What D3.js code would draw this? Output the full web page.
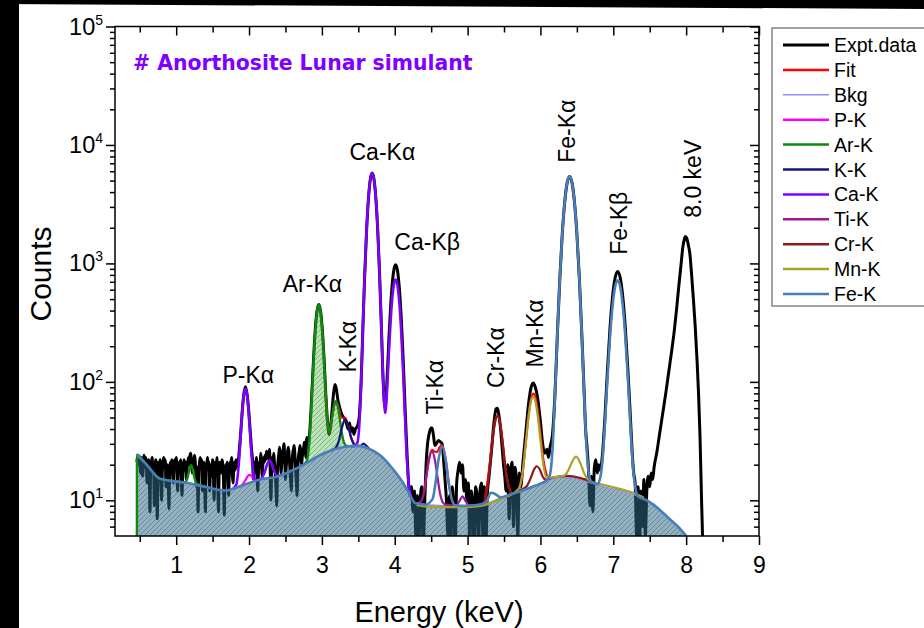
<!DOCTYPE html>
<html lang="en">
<head>
<meta charset="UTF-8">
<title>Anorthosite Lunar simulant - XRF spectrum</title>
<script src="https://cdn.jsdelivr.net/npm/d3@7"></script>
<style>
  body { margin: 0; background: #fff; }
  svg { display: block; font-family: "Liberation Sans", Arial, sans-serif; }
</style>
</head>
<body>
<svg width="924" height="628"></svg>
<script>
// ---- spectrum: [energy keV, counts] ----
const expt = [
  [0.46,21],[0.47,23],[0.48,24],[0.49,20],[0.50,22],[0.51,17],[0.52,23],[0.53,21],[0.54,16],[0.55,22],[0.56,24],[0.57,19],[0.58,23],[0.59,21],[0.60,14],[0.61,20],[0.62,22],[0.63,18],[0.64,8],[0.65,19],[0.66,21],[0.67,23],[0.68,17],[0.69,20],[0.70,9],[0.71,18],[0.72,22],[0.73,20],[0.74,7],[0.75,16],[0.76,21],[0.77,19],[0.78,22],[0.79,15],[0.80,10],[0.81,18],[0.82,21],[0.83,23],[0.84,19],[0.85,22],[0.86,13],[0.87,18],[0.88,20],[0.89,17],[0.90,8.5],[0.91,16],[0.92,21],[0.93,19],[0.94,22],[0.95,18],[0.96,14],[0.97,20],[0.98,22],[0.99,19],[1.00,23],[1.01,17],[1.02,12],[1.03,19],[1.04,21],[1.05,18],[1.06,22],[1.07,16],[1.08,11],[1.09,17],[1.10,20],[1.11,22],[1.12,18],[1.13,21],[1.14,15],[1.15,19],[1.16,21],[1.17,23],[1.18,20],[1.19,24],[1.20,25],[1.21,21],[1.22,17],[1.23,22],[1.24,20],[1.25,24],[1.26,22],[1.27,16],[1.28,13],[1.29,19],[1.30,8],[1.31,17],[1.32,21],[1.33,23],[1.34,19],[1.35,22],[1.36,12],[1.37,18],[1.38,21],[1.39,16],[1.40,8],[1.41,17],[1.42,20],[1.43,23],[1.44,19],[1.45,21],[1.46,12],[1.47,18],[1.48,20],[1.49,16],[1.50,22],[1.51,18],[1.52,10],[1.53,17],[1.54,21],[1.55,19],[1.56,23],[1.57,16],[1.58,8],[1.59,18],[1.60,21],[1.61,17],[1.62,19],[1.63,22],[1.64,20],[1.65,14],[1.66,7.5],[1.67,17],[1.68,20],[1.69,18],[1.70,21],[1.71,15],[1.72,11],[1.73,18],[1.74,21],[1.75,19],[1.76,23],[1.77,17],[1.78,14],[1.79,19],[1.80,21],[1.81,18],[1.82,22],[1.83,20],[1.84,19],[1.85,21],[1.86,24],
  [1.887,38],[1.908,58],[1.929,79],[1.95,91],[1.971,80],[1.992,61],[2.013,41],[2.034,27],
  [2.05,21],[2.06,15],[2.07,18],[2.08,21],[2.09,19],[2.10,23],[2.11,17],[2.12,12],[2.13,18],[2.14,21],[2.15,19],[2.16,25],[2.17,22],[2.18,16],[2.19,20],[2.20,23],[2.21,21],[2.22,24],[2.23,22],[2.24,26],[2.25,23],[2.26,25],[2.27,22],[2.28,27],[2.29,19],[2.30,10],[2.31,18],[2.32,23],[2.33,21],[2.34,25],[2.35,20],[2.36,17],[2.37,13],[2.38,9],[2.39,18],[2.40,22],[2.41,25],[2.42,28],[2.43,23],[2.44,17],[2.45,21],[2.46,25],[2.47,27],[2.48,30],[2.49,22],[2.50,15],[2.51,19],[2.52,23],[2.53,26],[2.54,28],[2.55,24],[2.56,19],[2.57,15],[2.58,12],[2.59,20],[2.60,25],[2.61,27],[2.62,29],[2.63,24],[2.64,18],[2.65,14],[2.66,11],[2.67,19],[2.68,24],[2.69,26],[2.70,29],[2.71,25],[2.72,20],[2.73,23],[2.74,26],[2.75,28],[2.76,31],[2.77,27],[2.78,23],
  [2.793,34],[2.816,30],[2.84,44],[2.863,82],[2.887,162],[2.91,282],[2.934,399],[2.957,450],[2.98,400],[3.004,283],[3.028,163],[3.051,84],[3.075,48],[3.098,36],[3.12,42],[3.14,58],[3.16,80],[3.18,95],[3.20,86],[3.22,70],[3.24,62],[3.26,56],[3.28,52],[3.30,50],[3.32,48],[3.34,44],[3.36,40],[3.38,45],[3.40,38],[3.42,41],[3.44,36],[3.46,40],
  [3.486,42],[3.5115,50],[3.537,95],[3.5625,283],[3.588,810],[3.6135,1902],[3.639,3530],[3.6645,5120],[3.69,5800],[3.7155,5120],[3.741,3528],[3.7665,1901],[3.792,808],[3.8175,280],[3.843,95],[3.8685,61],[3.894,104],[3.92,232],[3.946,461],[3.972,739],[3.99,897],[4.012,975],[4.038,866],[4.065,596],[4.0915,326],[4.118,144],[4.1445,55],[4.171,23],[4.19,14],[4.21,11],[4.23,13],[4.25,8],[4.27,12],[4.29,5],[4.31,11],[4.33,4],[4.35,10],[4.37,13],[4.39,4],[4.41,9],
  [4.43,20],[4.45,30],[4.47,36],[4.49,40],[4.51,41],[4.53,36],[4.55,29],[4.57,30],[4.60,32],[4.63,31],[4.65,30],[4.67,22],[4.69,15],[4.71,10],[4.73,5],[4.75,11],[4.77,4],[4.79,13],[4.81,9],[4.83,4],[4.85,14],[4.87,18],[4.89,21],[4.91,17],[4.93,20],[4.95,12],[4.97,15],[4.99,10],[5.01,14],[5.03,4],[5.05,12],[5.07,9],[5.09,4],[5.11,13],[5.13,11],[5.15,4],[5.17,12],[5.19,14],[5.21,5],[5.23,13],[5.25,4],[5.27,11],[5.29,15],
  [5.31,20],[5.33,27],[5.35,38],[5.37,50],[5.39,59],[5.41,60],[5.43,52],[5.45,42],[5.47,30],[5.49,21],[5.51,16],[5.53,12],[5.55,20],[5.57,7],[5.59,18],[5.61,21],[5.63,6],[5.65,19],[5.67,14],[5.69,5],[5.71,17],[5.73,13],
  [5.76,21],[5.80,38],[5.84,68],[5.87,89],[5.90,98],[5.93,90],[5.96,74],[6.00,46],[6.03,30],[6.06,25],[6.09,27],[6.11,23],[6.132,28],[6.1655,36],[6.199,78],[6.2325,255],[6.266,748],[6.2995,1772],[6.333,3296],[6.3665,4787],[6.40,5430],[6.4335,4787],[6.467,3296],[6.5005,1772],[6.534,748],[6.5675,255],[6.601,78],[6.62,40],[6.64,28],[6.66,18],[6.68,9],[6.70,16],[6.72,8],[6.74,19],[6.76,22],[6.78,17],[6.80,20],[6.82,18],[6.85,24],
  [6.885,50],[6.92,127],[6.955,286],[6.99,523],[7.025,756],[7.06,855],[7.095,756],[7.13,523],[7.165,286],[7.20,127],[7.235,50],[7.26,25],[7.28,17],[7.30,14],[7.32,5],[7.34,13],[7.36,4],[7.38,12],[7.40,6],[7.42,15],[7.44,5],[7.46,12],[7.48,16],[7.50,13],[7.52,17],[7.54,15],[7.56,19],[7.60,26],[7.64,38],[7.68,55],[7.72,80],[7.76,120],[7.80,180],[7.84,280],[7.87,420],[7.90,650],[7.93,980],[7.955,1380],[7.975,1600],[7.99,1690],[8.01,1620],[8.03,1430],[8.05,1224],[8.075,800],[8.10,494],[8.125,290],[8.15,150],[8.17,80],[8.19,35],[8.21,11],[8.225,5],[8.24,3]
];

// fitted background (filled area)
const bkg = [
  [0.46,24.3],[0.6,19.8],[0.78,15.2],[1.15,14.0],[1.4,13.0],[1.67,12.1],[1.9,13.3],[2.15,15],[2.38,15.8],[2.6,18],[2.79,20.7],[3.0,24.5],[3.2,27.3],[3.34,28.5],[3.5,28.8],[3.62,27.7],[3.8,24],[3.98,18.2],[4.1,14.5],[4.17,12.3],[4.28,9.5],[4.42,9.2],[4.8,9.0],[5.0,9.0],[5.26,9.4],[5.4,10.2],[5.58,11.2],[5.9,13.1],[6.16,15.2],[6.36,15.6],[6.55,14.9],[6.82,13.3],[7.05,12.3],[7.28,11.2],[7.55,9.2],[7.78,6.9],[7.9,5.9],[8.0,5.0]
];

// total fit, only where it shows (null = gap)
const fit = [
  [3.05,83],[3.075,46.6],[3.10,37.3],[3.14,50.6],[3.19,68.8],[3.23,60.3],[3.27,50.1],[3.32,49.5],[3.36,43],[3.40,34],[3.44,30],[3.46,null],
  [4.40,11.7],[4.44,16.9],[4.47,22.2],[4.51,26.7],[4.55,25.8],[4.58,25.5],[4.62,28.3],[4.65,29.2],[4.70,22],[4.74,14.2],[4.78,10.3],[4.80,null],
  [5.24,10.5],[5.26,12.6],[5.30,19.5],[5.34,32.9],[5.37,44.3],[5.41,51.6],[5.45,43.4],[5.48,31.5],[5.52,18.6],[5.56,13.4],[5.60,11.4],[5.62,null],
  [5.71,12.8],[5.76,18.2],[5.80,31.4],[5.84,54.1],[5.87,71.3],[5.90,79.5],[5.93,74.4],[5.96,59.1],[6.00,36.7],[6.04,22.1],[6.09,15.9]
];

const pK = [[1.86,13.1],[1.90,13.4],[1.95,14.8],[1.98,15.9],[2.00,16.4],[2.03,16.1],[2.06,15.3],[2.10,14.8],[2.15,15.0]];

const arK = [
  [0.4605,4],[0.4615,24.3],[0.6,19.8],[0.78,15.2],[1.0,14.5],[1.13,14.2],[1.16,15.9],[1.18,18.1],[1.205,19.8],[1.23,17.9],[1.25,15.6],[1.28,13.9],[1.4,13.0],[1.45,12.8],[1.46,null],
  [2.75,20.1],[2.793,21.6],[2.816,25.9],[2.84,40.4],[2.863,79.6],[2.887,160.4],[2.91,280],[2.934,397.4],[2.957,447.8],[2.98,398.2],[3.004,281.6],[3.028,162.8],[3.051,83.4],[3.075,46.6],[3.098,37.2],[3.12,41.5],[3.14,50.4],[3.165,62.7],[3.19,68.2],[3.215,63.2],[3.24,51.5],[3.27,38.2],[3.30,31.2],[3.34,28.8],[3.38,28.7]
];

const kK = [[3.10,26],[3.15,26.8],[3.19,27.8],[3.23,31.3],[3.27,39.9],[3.32,48.4],[3.36,42.9],[3.40,34],[3.44,29.8],[3.48,28.9],[3.53,28.9],[3.57,30.2],[3.61,28.8],[3.65,27.3]];

const caK = [
  [1.78,12.6],[1.824,13.5],[1.845,16.2],[1.866,23],[1.887,37.2],[1.908,58.2],[1.929,78.7],[1.95,87.6],[1.971,79],[1.992,58.7],[2.013,37.9],[2.034,24.2],[2.055,17.7],[2.076,15.3],[2.10,14.7],[2.15,15.0],[2.17,15.3],[2.22,17.7],[2.25,20.3],[2.28,21.7],[2.31,20.5],[2.34,17.9],[2.39,16.1],[2.45,16.5],[2.46,null],
  [3.40,28.7],[3.44,28.7],[3.486,30.6],[3.5115,41.3],[3.537,92.7],[3.5625,281],[3.588,809],[3.6135,1901],[3.639,3528],[3.6645,5120],[3.69,5797],[3.7155,5120],[3.741,3527],[3.7665,1900],[3.792,807],[3.8175,279],[3.843,93.5],[3.8685,54.7],[3.894,83.7],[3.92,178],[3.946,348.6],[3.972,554.6],[3.99,671.7],[4.012,729.6],[4.038,648],[4.065,447.6],[4.0915,246],[4.118,110],[4.1445,44.5],[4.171,20.2],[4.1975,12.9],[4.224,10.7],[4.26,9.8]
];

const tiK = [[4.30,9.4],[4.36,9.8],[4.40,11.6],[4.44,16.8],[4.47,22.1],[4.51,25.9],[4.55,22.1],[4.58,16.8],[4.62,11.6],[4.66,9.6],[4.70,9.2],[4.80,9.05],[4.85,9.1],[4.89,9.9],[4.93,10.8],[4.97,9.9],[5.01,9.1],[5.08,9.0]];

const crK = [[5.20,9.2],[5.26,11.4],[5.30,17.6],[5.34,31],[5.37,42.9],[5.41,51],[5.45,43.2],[5.48,31.5],[5.52,18.6],[5.56,13.4],[5.60,11.4],[5.66,11.6],[5.75,12.4],[5.82,13.4],[5.87,15.6],[5.91,18.1],[5.95,19.4],[5.99,18.3],[6.03,15.9],[6.08,14.9],[6.14,15.4],[6.25,15.9],[6.36,16.1],[6.48,15.8],[6.6,15.1],[6.7,14.3]];

const mnK = [[4.30,9.1],[4.45,8.85],[4.7,8.75],[5.0,8.75],[5.2,9.0],[5.30,9.4],[5.45,10.3],[5.6,11.2],[5.71,12.75],[5.76,18.1],[5.80,31],[5.84,52.8],[5.87,68.6],[5.90,75.1],[5.93,68.7],[5.96,53.1],[6.00,32.2],[6.04,19.9],[6.09,15.4],[6.2,15.7],[6.33,16.2],[6.38,17.8],[6.43,20.9],[6.49,23.4],[6.55,20.4],[6.60,16.9],[6.65,15.1],[6.72,14.2],[6.85,13.6],[7.0,12.9],[7.15,12.2],[7.3,11.4],[7.42,10.5]];

const feK = [
  [0.46,24.3],[0.6,19.8],[0.78,15.2],[1.15,14.0],[1.4,13.0],[1.67,12.1],[1.9,13.3],[2.15,15],[2.38,15.8],[2.6,18],[2.79,20.7],[3.0,24.5],[3.2,27.3],[3.34,28.5],[3.5,28.8],[3.62,27.7],[3.8,24],[3.98,18.2],[4.1,14.5],[4.17,12.3],[4.28,9.5],[4.42,9.2],
  [4.52,10.3],[4.56,14.1],[4.60,21.9],[4.65,28.5],[4.70,21.9],[4.74,14.1],[4.78,10.3],[4.83,9.1],[5.0,9.0],[5.2,9.3],[5.26,9.8],[5.32,11.6],[5.38,11.3],[5.45,10.6],[5.58,11.2],[5.9,13.1],
  [6.0985,15.0],[6.132,16.6],[6.1655,26.8],[6.199,75.4],[6.2325,252],[6.266,746],[6.2995,1770],[6.333,3294],[6.3665,4785],[6.40,5420],[6.4335,4785],[6.467,3294],[6.5005,1770],[6.534,746],[6.5675,252],[6.601,74.7],[6.6345,26.5],[6.668,16.3],[6.7015,14.3],[6.78,13.7],[6.815,15],[6.85,21.2],
  [6.885,44],[6.92,108],[6.955,242],[6.99,441],[7.025,637],[7.06,720],[7.095,637],[7.13,441],[7.165,242],[7.20,108],[7.235,42.5],[7.27,19.1],[7.305,12.6],[7.34,10.8],[7.45,10.1],[7.55,9.2],[7.78,6.9],[7.9,5.9],[8.0,5.0]
];

const xTicks = [1, 2, 3, 4, 5, 6, 7, 8, 9];
const xMinorTicks = [0.5, 1.5, 2.5, 3.5, 4.5, 5.5, 6.5, 7.5, 8.5];
const yTicks = [1e1, 1e2, 1e3, 1e4, 1e5];
const yExponents = ['1', '2', '3', '4', '5'];

const legendNames = ['Expt.data', 'Fit', 'Bkg', 'P-K', 'Ar-K', 'K-K', 'Ca-K', 'Ti-K', 'Cr-K', 'Mn-K', 'Fe-K'];

const peakNames = ['P-Kα', 'Ar-Kα', 'K-Kα', 'Ca-Kα', 'Ca-Kβ', 'Ti-Kα', 'Cr-Kα', 'Mn-Kα', 'Fe-Kα', 'Fe-Kβ', '8.0 keV'];
const peakLabelE = [1.99, 2.87, 3.36, 3.83, 4.445, 4.555, 5.39, 5.93, 6.37, 7.08, 8.10];
const peakLabelC = [98, 577, 120, 7500, 1306, 53, 89, 132, 7080, 1183, 2430];
const peakRotated = [false, false, true, false, false, true, true, true, true, true, true];

// ---- styles ----
const colors = {
  'Expt.data': '#000000', 'Fit': '#ff0000', 'Bkg': '#8c8cff', 'P-K': '#ff00ff',
  'Ar-K': '#0c8a0c', 'K-K': '#14147f', 'Ca-K': '#8000ff', 'Ti-K': '#9a1a9a',
  'Cr-K': '#8b1a1a', 'Mn-K': '#a8a228', 'Fe-K': '#4a7ebb'
};
const font = '"Liberation Sans", Arial, sans-serif';

const svg = d3.select('svg');
const W = 924, H = 628;
const plot = { left: 115, right: 759, top: 26.5, bottom: 536 };

const x = d3.scaleLinear().domain([0.16, 9]).range([plot.left, plot.right]);
const y = d3.scaleLog().domain([5, 1e5]).range([plot.bottom, plot.top]);

// black edge of the scanned figure
svg.append('rect').attr('x', 0).attr('y', 0).attr('width', 19).attr('height', H).attr('fill', '#000');
svg.append('path').attr('d', `M0,0H${W}V9L0,4Z`).attr('fill', '#000');

const defs = svg.append('defs');
defs.append('clipPath').attr('id', 'plotClip')
  .append('rect')
  .attr('x', plot.left).attr('y', plot.top)
  .attr('width', plot.right - plot.left).attr('height', plot.bottom - plot.top);

function hatchPattern(id, fill, fillOpacity, stroke, strokeOpacity) {
  const p = defs.append('pattern').attr('id', id)
    .attr('patternUnits', 'userSpaceOnUse').attr('width', 5).attr('height', 5);
  p.append('rect').attr('width', 5).attr('height', 5).attr('fill', fill).attr('fill-opacity', fillOpacity);
  p.append('path').attr('d', 'M-1,1L1,-1M0,5L5,0M4,6L6,4')
    .attr('stroke', stroke).attr('stroke-opacity', strokeOpacity).attr('stroke-width', 1);
}
hatchPattern('hatchBlue', 'rgb(50,105,135)', 0.52, 'rgb(25,60,85)', 0.35);
hatchPattern('hatchGreen', 'rgb(95,185,85)', 0.42, 'rgb(30,120,30)', 0.4);

const line = d3.line()
  .defined(d => d[1] != null)
  .x(d => x(d[0]))
  .y(d => y(d[1]))
  .curve(d3.curveMonotoneX);

const g = svg.append('g').attr('clip-path', 'url(#plotClip)');

// experimental data first, fill goes over it
g.append('path').datum(expt)
  .attr('d', line)
  .attr('fill', 'none').attr('stroke', colors['Expt.data'])
  .attr('stroke-width', 3).attr('stroke-linejoin', 'round');

// Ar-K peak area between curve and background
const bkgAt = d3.scaleLinear().domain(bkg.map(d => d[0])).range(bkg.map(d => d[1]));
const arPeak = arK.filter(d => d[1] != null && d[0] >= 2.79 && d[0] <= 3.34);
g.append('path').datum(arPeak)
  .attr('d', d3.area()
    .x(d => x(d[0]))
    .y0(d => y(bkgAt(d[0])))
    .y1(d => y(d[1]))
    .curve(d3.curveMonotoneX))
  .attr('fill', 'url(#hatchGreen)');

// background fill
g.append('path').datum(bkg)
  .attr('d', d3.area()
    .x(d => x(d[0]))
    .y0(plot.bottom)
    .y1(d => y(d[1]))
    .curve(d3.curveMonotoneX))
  .attr('fill', 'url(#hatchBlue)');

const series = [
  ['Fit', fit, 2.2], ['Bkg', bkg, 1.2], ['P-K', pK, 2.2], ['Ar-K', arK, 2.4],
  ['K-K', kK, 2.2], ['Ca-K', caK, 2.6], ['Ti-K', tiK, 2.2], ['Cr-K', crK, 2.2],
  ['Mn-K', mnK, 2.2], ['Fe-K', feK, 2.6]
];
series.forEach(([name, data, w]) => {
  g.append('path').datum(data)
    .attr('d', line)
    .attr('fill', 'none').attr('stroke', colors[name])
    .attr('stroke-width', w).attr('stroke-linejoin', 'round');
});

// ---- axes ----
function styleAxis(sel) {
  sel.select('.domain').remove();
  sel.selectAll('line').attr('stroke', '#000').attr('stroke-width', 1.5);
  sel.attr('font-family', font).attr('font-size', 23);
  sel.selectAll('text').attr('fill', '#000');
}

svg.append('g').attr('transform', `translate(0,${plot.bottom})`)
  .call(d3.axisBottom(x).tickValues(xTicks).tickSize(9).tickPadding(12).tickFormat(d3.format('d')))
  .call(styleAxis);
svg.append('g').attr('transform', `translate(0,${plot.bottom})`)
  .call(d3.axisBottom(x).tickValues(xMinorTicks).tickSize(6).tickFormat(''))
  .call(styleAxis);
svg.append('g').attr('transform', `translate(0,${plot.top})`)
  .call(d3.axisTop(x).tickValues(xTicks).tickSize(-9).tickFormat(''))
  .call(styleAxis);
svg.append('g').attr('transform', `translate(0,${plot.top})`)
  .call(d3.axisTop(x).tickValues(xMinorTicks).tickSize(-6).tickFormat(''))
  .call(styleAxis);

const yMinor = y.ticks().filter(v => !yTicks.includes(v) && v > 5);
svg.append('g').attr('transform', `translate(${plot.left},0)`)
  .call(d3.axisLeft(y).tickValues(yTicks).tickSize(9).tickFormat(''))
  .call(styleAxis);
svg.append('g').attr('transform', `translate(${plot.left},0)`)
  .call(d3.axisLeft(y).tickValues(yMinor).tickSize(5).tickFormat(''))
  .call(styleAxis);
svg.append('g').attr('transform', `translate(${plot.right},0)`)
  .call(d3.axisRight(y).tickValues(yTicks).tickSize(-9).tickFormat(''))
  .call(styleAxis);
svg.append('g').attr('transform', `translate(${plot.right},0)`)
  .call(d3.axisRight(y).tickValues(yMinor).tickSize(-5).tickFormat(''))
  .call(styleAxis);

// y tick labels as 10^n
yTicks.forEach((v, i) => {
  const t = svg.append('text')
    .attr('x', plot.left - 12).attr('y', y(v) + 8)
    .attr('text-anchor', 'end')
    .attr('font-family', font).attr('font-size', 23.5);
  t.append('tspan').text('10');
  t.append('tspan').attr('dy', -10).attr('font-size', 14).text(yExponents[i]);
});

// frame
svg.append('rect')
  .attr('x', plot.left).attr('y', plot.top)
  .attr('width', plot.right - plot.left).attr('height', plot.bottom - plot.top)
  .attr('fill', 'none').attr('stroke', '#000').attr('stroke-width', 1.5);

// axis titles
svg.append('text')
  .attr('x', (plot.left + plot.right) / 2 + 2).attr('y', 622)
  .attr('text-anchor', 'middle')
  .attr('font-family', font).attr('font-size', 29)
  .text('Energy (keV)');
svg.append('text')
  .attr('transform', 'translate(51,274) rotate(-90)')
  .attr('text-anchor', 'middle')
  .attr('font-family', font).attr('font-size', 30)
  .text('Counts');

// sample title
svg.append('text')
  .attr('x', 133).attr('y', 70)
  .attr('font-family', '"DejaVu Sans", Verdana, sans-serif')
  .attr('font-weight', 'bold').attr('font-size', 20.4)
  .attr('fill', '#8000ff')
  .text('# Anorthosite Lunar simulant');

// peak labels
peakNames.forEach((name, i) => {
  const px = x(peakLabelE[i]), py = y(peakLabelC[i]);
  const t = svg.append('text')
    .attr('font-family', font).attr('font-size', 23).attr('fill', '#000')
    .text(name);
  if (peakRotated[i]) {
    t.attr('transform', `translate(${px},${py}) rotate(-90)`)
      .attr('text-anchor', 'start').attr('dominant-baseline', 'central');
  } else {
    t.attr('x', px).attr('y', py).attr('text-anchor', 'middle');
  }
});

// ---- legend ----
const legend = svg.append('g');
legend.append('rect')
  .attr('x', 772).attr('y', 28).attr('width', 170).attr('height', 278)
  .attr('fill', '#fff').attr('stroke', '#666').attr('stroke-width', 1.2);
legendNames.forEach((name, i) => {
  const ly = 45 + i * 24.9;
  legend.append('line')
    .attr('x1', 783).attr('x2', 829).attr('y1', ly).attr('y2', ly)
    .attr('stroke', colors[name])
    .attr('stroke-width', name === 'Expt.data' ? 3 : (name === 'Bkg' ? 1.4 : 2.5));
  legend.append('text')
    .attr('x', 834).attr('y', ly)
    .attr('dominant-baseline', 'central')
    .attr('font-family', font).attr('font-size', 19.5)
    .text(name);
});
</script>
</body>
</html>
